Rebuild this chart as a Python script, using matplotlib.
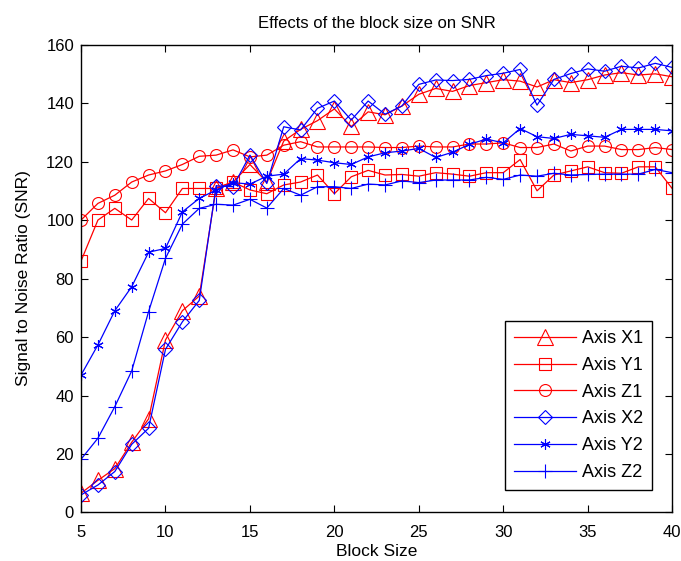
import matplotlib
matplotlib.use("Agg")
import matplotlib.pyplot as plt

plt.rcParams['font.family'] = ['Liberation Sans', 'DejaVu Sans']

block_size = list(range(5, 41))

axis_x1 = [6.6, 11, 15, 24, 32, 59, 69, 74, 111, 113, 119, 113, 127, 131, 134, 138, 132, 137,
           136, 139, 143, 145, 144, 146, 147, 148, 147.5, 145.5, 148, 147, 148, 149.6, 150.4,
           149.6, 150, 149]
axis_y1 = [86, 100, 104, 100, 107.4, 102.5, 110.8, 110.8, 110.8, 113, 110.3, 109, 112, 113,
           115.4, 109, 114.8, 117, 115.4, 115.6, 115, 116.2, 115.7, 115, 116.2, 116.2, 120.7,
           110, 115.4, 116.8, 118.2, 116.2, 116, 118.2, 118.2, 110.8]
axis_z1 = [100, 105.7, 108.5, 113, 115.4, 116.8, 119, 121.8, 122.2, 124, 121.6, 122.2, 125.6,
           126.8, 125, 125, 125, 125, 124.8, 124.8, 125.3, 125, 125, 126, 126, 126.4, 124.8,
           124.8, 126, 123.6, 125.3, 125.3, 124.1, 124.1, 124.8, 124.1]
axis_x2 = [6, 9.4, 14, 23.3, 28.8, 55.8, 65.2, 72.5, 111.7, 111.4, 122.2, 112.5, 131.9, 130.8,
           138.2, 140.7, 134.2, 140.7, 136.2, 139, 146.4, 147.9, 147.7, 148.1, 149.4, 150.2,
           151.5, 139.3, 148.1, 150.1, 151.7, 150.9, 152.6, 152, 153.6, 152.2]
axis_y2 = [47, 57.3, 69, 77.2, 89, 90.3, 102.8, 107.4, 110.3, 112.8, 112.3, 115, 115.7, 121,
           120.5, 119.6, 119, 121.6, 123, 123.6, 124.5, 121.4, 123.2, 125.9, 127.7, 126.4,
           131.3, 128.5, 127.9, 129.3, 128.8, 128.3, 131, 131, 131, 130.5]
axis_z2 = [18.2, 25.4, 36.2, 48.4, 68.7, 86.9, 98.6, 104, 105.4, 105.1, 107.1, 104.1, 110.8,
           108.5, 111.4, 111.4, 110.8, 112.3, 112, 113.4, 112.8, 113.7, 113.7, 113.7, 114.6,
           113.9, 115.4, 115, 116, 115.4, 115.6, 115.7, 115.7, 115.7, 117.3, 116.2]

series_names = ['Axis X1', 'Axis Y1', 'Axis Z1', 'Axis X2', 'Axis Y2', 'Axis Z2']
series_values = [axis_x1, axis_y1, axis_z1, axis_x2, axis_y2, axis_z2]
x_ticks = [5, 10, 15, 20, 25, 30, 35, 40]
y_ticks = [0, 20, 40, 60, 80, 100, 120, 140, 160]

styles = [
    dict(color='#ff0000', marker='^', markersize=11),
    dict(color='#ff0000', marker='s', markersize=8.6),
    dict(color='#ff0000', marker='o', markersize=8.6),
    dict(color='#0000ff', marker='D', markersize=6.8),
    dict(color='#0000ff', marker=(6, 2, 0), markersize=7.5),
    dict(color='#0000ff', marker='+', markersize=9.5),
]

fig = plt.figure(figsize=(6.81, 5.61), dpi=100)
ax = fig.add_axes([0.119, 0.0865, 0.868, 0.834])

for name, vals, st in zip(series_names, series_values, styles):
    ax.plot(block_size, vals, label=name, color=st['color'], marker=st['marker'],
            markersize=st['markersize'], markerfacecolor='none',
            markeredgecolor=st['color'], markeredgewidth=0.8, linewidth=0.9)

ax.set_xlim(5, 40)
ax.set_ylim(0, 160)
ax.set_xticks(x_ticks)
ax.set_yticks(y_ticks)
ax.tick_params(direction='in', top=True, right=True, length=5, width=0.8,
               labelsize=12)
ax.tick_params(axis='x', pad=9)
ax.tick_params(axis='y', pad=5)
for s in ax.spines.values():
    s.set_linewidth(1.0)

ax.set_xlabel('Block Size', fontsize=12.5, labelpad=3)
ax.set_ylabel('Signal to Noise Ratio (SNR)', fontsize=12.5, labelpad=11)
ax.set_title('Effects of the block size on SNR', fontsize=12, pad=12)

leg = ax.legend(loc='lower right', bbox_to_anchor=(0.966, 0.048), borderaxespad=0,
                fancybox=False, edgecolor='black', framealpha=1, fontsize=13,
                handlelength=3.4, labelspacing=0.54, handletextpad=0.35,
                borderpad=0.5)
leg.get_frame().set_linewidth(1.0)

fig.savefig('out.png', dpi=100)
